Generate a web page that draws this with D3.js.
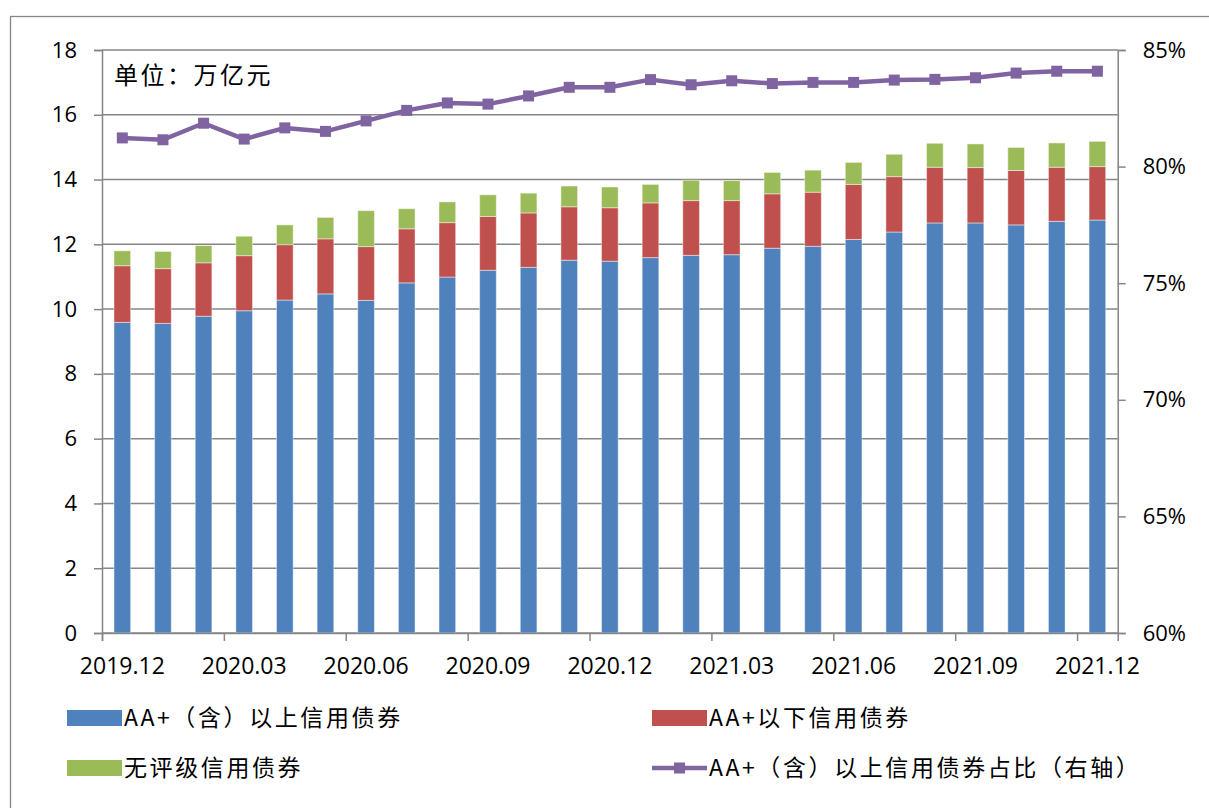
<!DOCTYPE html>
<html>
<head>
<meta charset="utf-8">
<script src="https://cdn.jsdelivr.net/npm/d3@7"></script>
<style>
  body { margin: 0; background: #fff; }
  svg { display: block; }
</style>
</head>
<body>
<div id="chart"></div>
<script>
'use strict';

const months = [
  "2019.12", "2020.01", "2020.02", "2020.03", "2020.04", "2020.05", "2020.06",
  "2020.07", "2020.08", "2020.09", "2020.10", "2020.11", "2020.12",
  "2021.01", "2021.02", "2021.03", "2021.04", "2021.05", "2021.06",
  "2021.07", "2021.08", "2021.09", "2021.10", "2021.11", "2021.12"
];

// 万亿元
const aaPlusUp = [9.59, 9.56, 9.78, 9.95, 10.28, 10.47, 10.27, 10.81, 10.99, 11.20, 11.29, 11.51, 11.48,
  11.59, 11.66, 11.68, 11.88, 11.94, 12.15, 12.38, 12.66, 12.66, 12.60, 12.71, 12.75];
const aaPlusDown = [1.75, 1.69, 1.65, 1.70, 1.71, 1.70, 1.66, 1.67, 1.68, 1.66, 1.68, 1.65, 1.65,
  1.69, 1.69, 1.67, 1.68, 1.67, 1.70, 1.71, 1.72, 1.71, 1.68, 1.67, 1.65];
const unrated = [0.46, 0.53, 0.53, 0.60, 0.61, 0.66, 1.11, 0.62, 0.64, 0.67, 0.61, 0.64, 0.64,
  0.57, 0.63, 0.62, 0.66, 0.68, 0.68, 0.69, 0.74, 0.73, 0.71, 0.75, 0.78];

// %
const aaPlusShare = [81.23, 81.15, 81.86, 81.18, 81.66, 81.51, 81.96, 82.41, 82.73, 82.68, 83.03, 83.40, 83.40,
  83.73, 83.51, 83.68, 83.56, 83.61, 83.61, 83.71, 83.74, 83.81, 84.01, 84.09, 84.09];

const leftTicks = [0, 2, 4, 6, 8, 10, 12, 14, 16, 18];
const rightTicks = [60, 65, 70, 75, 80, 85];
const labelMonths = ["2019.12", "2020.03", "2020.06", "2020.09", "2020.12", "2021.03", "2021.06", "2021.09", "2021.12"];

const seriesNames = ["AA+（含）以上信用债券", "AA+以下信用债券", "无评级信用债券", "AA+（含）以上信用债券占比（右轴）"];
const colors = ["#4f81bd", "#c0504d", "#9bbb59", "#8064a2"];

const width = 1209;
const height = 808;
const margin = { top: 50, right: 91, bottom: 175, left: 102 };
const gridColor = "#868686";
const font = "'Open Sans', 'Liberation Sans', sans-serif";
const cjk = "'Noto Sans CJK SC', sans-serif";

const svg = d3.select("#chart")
  .append("svg")
  .attr("width", width)
  .attr("height", height);

// outer frame
svg.append("rect")
  .attr("x", 10.5)
  .attr("y", 16.5)
  .attr("width", width + 20)
  .attr("height", height + 20)
  .attr("fill", "none")
  .attr("stroke", gridColor)
  .attr("stroke-width", 1.3);

const x0 = margin.left;
const x1 = width - margin.right - 0.3;
const yBottom = height - margin.bottom;

const xScale = d3.scaleBand()
  .domain(months)
  .range([x0, x1])
  .paddingInner(0.59)
  .paddingOuter(0.295);

const xEdge = d3.scaleLinear()
  .domain([0, months.length])
  .range([x0, x1]);

const yScale = d3.scaleLinear()
  .domain([0, 18])
  .range([yBottom, margin.top]);

const pScale = d3.scaleLinear()
  .domain([60, 85])
  .range([yBottom, margin.top]);

// gridlines
svg.append("g")
  .selectAll("line")
  .data(leftTicks)
  .enter()
  .append("line")
  .attr("x1", x0)
  .attr("x2", x1)
  .attr("y1", d => yScale(d))
  .attr("y2", d => yScale(d))
  .attr("stroke", gridColor)
  .attr("stroke-width", 1.5);

// stacked bars
const rows = months.map((m, i) => ({
  month: m,
  up: aaPlusUp[i],
  down: aaPlusDown[i],
  none: unrated[i]
}));
const stack = d3.stack().keys(["up", "down", "none"])(rows);

svg.append("g")
  .selectAll("g")
  .data(stack)
  .enter()
  .append("g")
  .attr("fill", (d, i) => colors[i])
  .selectAll("rect")
  .data(d => d)
  .enter()
  .append("rect")
  .attr("x", d => xScale(d.data.month))
  .attr("width", xScale.bandwidth())
  .attr("y", d => yScale(d[1]))
  .attr("height", d => yScale(d[0]) - yScale(d[1]))
  .attr("stroke", "#ffffff")
  .attr("stroke-opacity", 0.45)
  .attr("stroke-width", 1);

// left axis
const leftAxis = svg.append("g")
  .attr("transform", `translate(${x0}, 0)`)
  .call(d3.axisLeft(yScale).tickValues(leftTicks).tickSize(8).tickPadding(17));

// right axis
const rightAxis = svg.append("g")
  .attr("transform", `translate(${x1}, 0)`)
  .call(d3.axisRight(pScale).tickValues(rightTicks).tickSize(8).tickPadding(17)
    .tickFormat(d => `${d}%`));

// bottom tick marks at category edges
const edgeAxis = svg.append("g")
  .attr("transform", `translate(0, ${yBottom})`)
  .call(d3.axisBottom(xEdge).tickValues(d3.range(0, months.length + 1, 3)).tickSize(8).tickFormat(""));

// bottom labels at category centres
const labelAxis = svg.append("g")
  .attr("transform", `translate(0, ${yBottom})`)
  .call(d3.axisBottom(xScale).tickValues(labelMonths).tickSize(0).tickPadding(25));
labelAxis.select(".domain").remove();

[leftAxis, rightAxis, edgeAxis].forEach(g => {
  g.selectAll("path, line")
    .attr("stroke", gridColor)
    .attr("stroke-width", 1.5);
});

[leftAxis, rightAxis, labelAxis].forEach(g => {
  g.selectAll("text")
    .attr("fill", "#000")
    .style("font-family", font)
    .style("font-size", "22px");
});
labelAxis.selectAll("text").style("font-size", "23px");

// share line (right axis)
const cx = m => xScale(m) + xScale.bandwidth() / 2;
const line = d3.line()
  .x(d => cx(d.month))
  .y(d => pScale(d.share));
const shareRows = months.map((m, i) => ({ month: m, share: aaPlusShare[i] }));

svg.append("path")
  .datum(shareRows)
  .attr("fill", "none")
  .attr("stroke", colors[3])
  .attr("stroke-width", 4.5)
  .attr("stroke-linejoin", "round")
  .attr("d", line);

svg.append("g")
  .selectAll("rect")
  .data(shareRows)
  .enter()
  .append("rect")
  .attr("x", d => cx(d.month) - 5.5)
  .attr("y", d => pScale(d.share) - 5.5)
  .attr("width", 11)
  .attr("height", 11)
  .attr("fill", colors[3]);

// unit note
svg.append("text")
  .attr("x", 114)
  .attr("y", 84)
  .text("单位：万亿元")
  .style("font-family", cjk)
  .style("font-size", "24px")
  .style("letter-spacing", "2.5px")
  .attr("fill", "#000");

// legend
const legendItems = [
  { name: seriesNames[0], color: colors[0], x: 67, y: 718, type: "box" },
  { name: seriesNames[1], color: colors[1], x: 652, y: 718, type: "box" },
  { name: seriesNames[2], color: colors[2], x: 67, y: 768, type: "box" },
  { name: seriesNames[3], color: colors[3], x: 652, y: 768, type: "line" }
];

const legend = svg.append("g")
  .selectAll("g")
  .data(legendItems)
  .enter()
  .append("g")
  .attr("transform", d => `translate(${d.x}, ${d.y})`);

legend.filter(d => d.type === "box")
  .append("rect")
  .attr("x", 0)
  .attr("y", -8)
  .attr("width", 55)
  .attr("height", 16)
  .attr("fill", d => d.color);

legend.filter(d => d.type === "line")
  .append("line")
  .attr("x1", 0)
  .attr("x2", 55)
  .attr("stroke", d => d.color)
  .attr("stroke-width", 4.5);

legend.filter(d => d.type === "line")
  .append("rect")
  .attr("x", 22)
  .attr("y", -5.5)
  .attr("width", 11)
  .attr("height", 11)
  .attr("fill", d => d.color);

legend.append("text")
  .attr("x", 57)
  .attr("y", 0)
  .attr("dy", "0.36em")
  .text(d => d.name)
  .style("font-family", cjk)
  .style("font-size", "23px")
  .style("letter-spacing", "2.6px")
  .attr("fill", "#000");
</script>
</body>
</html>
